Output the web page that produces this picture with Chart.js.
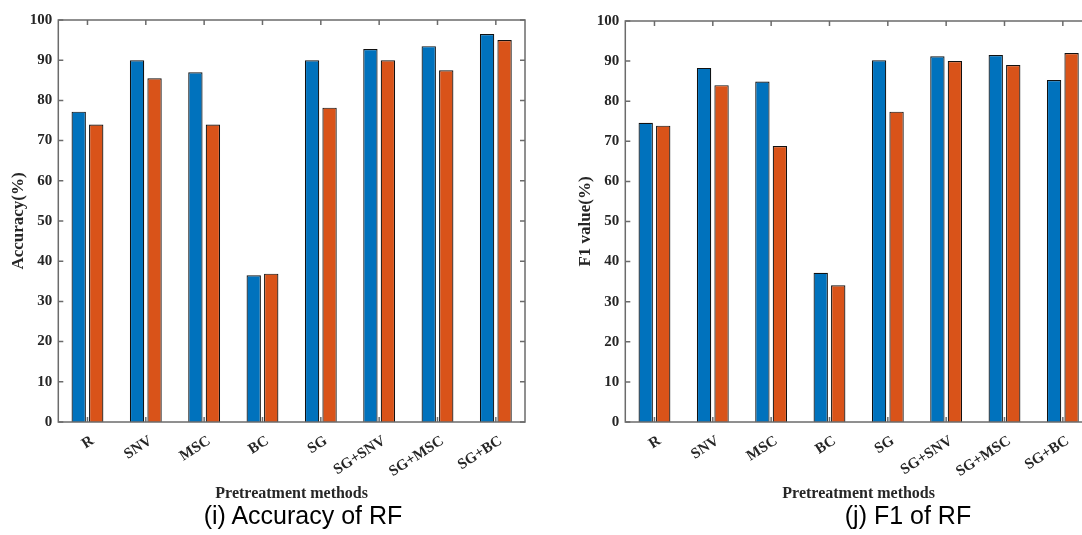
<!DOCTYPE html>
<html>
<head>
<meta charset="utf-8">
<script src="https://cdn.jsdelivr.net/npm/chart.js@4.4.1/dist/chart.umd.min.js"></script>
<style>
  html, body { margin: 0; padding: 0; background: #fff; overflow: hidden; width: 1082px; height: 535px; }
  .panel { position: absolute; top: 0; }
  canvas { display: block; }
  .caption { position: absolute; top: 503px; font-family: "Liberation Sans", Arial, sans-serif; font-size: 25px; line-height: 25px; color: #000; white-space: nowrap; transform: translateX(-50%); }
</style>
</head>
<body>
<div class="panel" style="left:0px"><canvas id="accChart" width="541" height="535"></canvas></div>
<div class="panel" style="left:567px"><canvas id="f1Chart" width="541" height="535"></canvas></div>
<div class="caption" style="left:303px">(i) Accuracy of RF</div>
<div class="caption" style="left:908px">(j) F1 of RF</div>
<script>
// Pretreatment methods on the x axis
var methods = ['R', 'SNV', 'MSC', 'BC', 'SG', 'SG+SNV', 'SG+MSC', 'SG+BC'];

// Accuracy (%) of RF, two bars per method
var accBlue = [77.2, 90, 87, 36.5, 90, 92.8, 93.5, 96.5];
var accOrange = [74, 85.5, 74, 36.9, 78.2, 90, 87.5, 95];

// F1 value (%) of RF
var f1Blue = [74.6, 88.3, 84.9, 37.2, 90.2, 91.2, 91.5, 85.3];
var f1Orange = [73.9, 84, 68.8, 34.1, 77.4, 90, 89, 92];

var yTicks = [0, 10, 20, 30, 40, 50, 60, 70, 80, 90, 100];

var serif = '"Liberation Serif", "Times New Roman", serif';
var textColor = '#262626';

// box around the plot with small inward tick marks, like the matlab figure
var framePlugin = {
    id: 'frame',
    beforeDatasetsDraw: function (chart) {
        var ctx = chart.ctx, a = chart.chartArea;
        var x = chart.scales.x, y = chart.scales.y;
        ctx.save();
        ctx.strokeStyle = '#6b6b6b';
        ctx.lineWidth = 1.5;
        ctx.beginPath();
        for (var i = 0; i < x.ticks.length; i++) {
            var px = x.getPixelForTick(i);
            ctx.moveTo(px, a.bottom); ctx.lineTo(px, a.bottom - 5);
            ctx.moveTo(px, a.top); ctx.lineTo(px, a.top + 5);
        }
        yTicks.forEach(function (v) {
            var py = y.getPixelForValue(v);
            ctx.moveTo(a.left, py); ctx.lineTo(a.left + 5, py);
            ctx.moveTo(a.right, py); ctx.lineTo(a.right - 5, py);
        });
        ctx.stroke();
        ctx.restore();
    },
    afterDatasetsDraw: function (chart) {
        var ctx = chart.ctx, a = chart.chartArea;
        ctx.save();
        ctx.strokeStyle = '#6b6b6b';
        ctx.lineWidth = 1.5;
        ctx.strokeRect(a.left, a.top, a.right - a.left, a.bottom - a.top);
        ctx.restore();
    }
};

function makeChart(id, blue, orange, yTitle, topPad) {
    var ctx = document.getElementById(id).getContext('2d');
    return new Chart(ctx, {
        type: 'bar',
        data: {
            labels: methods,
            datasets: [
                { data: blue, backgroundColor: '#0072BD', borderColor: '#111', borderWidth: 1.2 },
                { data: orange, backgroundColor: '#D95319', borderColor: '#111', borderWidth: 1.2 }
            ]
        },
        options: {
            responsive: false,
            animation: false,
            categoryPercentage: 0.6,
            barPercentage: 0.82,
            layout: { padding: { top: topPad, right: 16, bottom: 32, left: 0 } },
            plugins: { legend: { display: false }, tooltip: { enabled: false } },
            scales: {
                x: {
                    grid: { display: false, drawTicks: false },
                    border: { display: false },
                    ticks: {
                        autoSkip: false,
                        minRotation: 33,
                        maxRotation: 33,
                        padding: 10,
                        labelOffset: 5,
                        color: textColor,
                        font: { family: serif, size: 15, weight: 'bold' }
                    },
                    title: {
                        display: true,
                        text: 'Pretreatment methods',
                        color: textColor,
                        padding: 0,
                        font: { family: serif, size: 16, weight: 'bold', lineHeight: 1.2 }
                    },
                    afterFit: function (s) { s.height = 81; }
                },
                y: {
                    min: 0,
                    max: 100,
                    grid: { display: false, drawTicks: false },
                    border: { display: false },
                    afterBuildTicks: function (s) { s.ticks = yTicks.map(function (v) { return { value: v }; }); },
                    ticks: {
                        padding: 6,
                        color: textColor,
                        font: { family: serif, size: 15, weight: 'bold' }
                    },
                    title: {
                        display: true,
                        text: yTitle,
                        color: textColor,
                        padding: { top: 8, bottom: 0 },
                        font: { family: serif, size: 17, weight: 'bold', lineHeight: 1.2 }
                    },
                    afterFit: function (s) { s.width = 58.3; }
                }
            }
        },
        plugins: [framePlugin]
    });
}

makeChart('accChart', accBlue, accOrange, 'Accuracy(%)', 20);
makeChart('f1Chart', f1Blue, f1Orange, 'F1 value(%)', 21);
</script>
</body>
</html>
